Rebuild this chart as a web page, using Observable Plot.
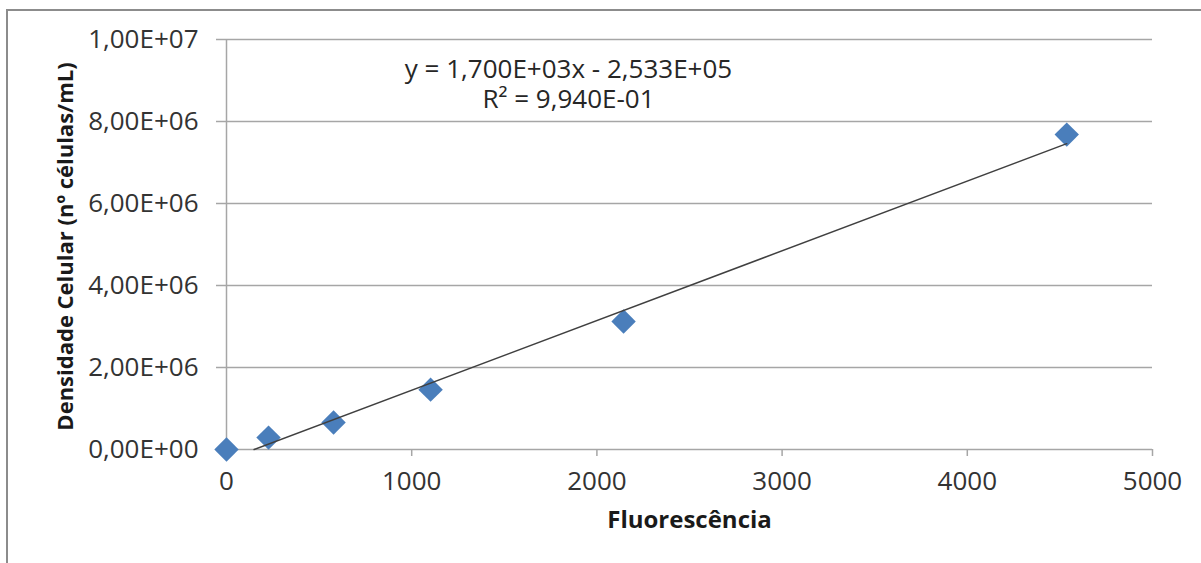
<!DOCTYPE html>
<html><head><meta charset="utf-8">
<script src="https://cdn.jsdelivr.net/npm/d3@7"></script>
<script src="https://cdn.jsdelivr.net/npm/@observablehq/plot@0.6"></script>
<style>
html,body{margin:0;padding:0;background:#fff;}
#wrap{position:relative;width:1201px;height:563px;overflow:hidden;background:#fff;}
#border{position:absolute;left:6px;top:9px;width:1300px;height:700px;border:2px solid #8c8c8c;box-sizing:border-box;}
#chart{position:absolute;left:0;top:0;}
</style></head><body>
<div id="wrap"><div id="border"></div><div id="chart"></div></div>
<script>
// data
const fluorescencia = [0, 227, 578, 1102, 2144, 4537];
const densidade = [0, 2.9e5, 6.6e5, 1.46e6, 3.12e6, 7.68e6];
const trendSlope = 1700;
const trendIntercept = -253300;
const xTicks = [0, 1000, 2000, 3000, 4000, 5000];
const yTicks = [0, 2e6, 4e6, 6e6, 8e6, 1e7];
const yTickLabels = ["0,00E+00", "2,00E+06", "4,00E+06", "6,00E+06", "8,00E+06", "1,00E+07"];
const equationLines = ["y = 1,700E+03x - 2,533E+05", "R² = 9,940E-01"];
const xLabel = "Fluorescência";
const yLabel = "Densidade Celular (nº células/mL)";

const points = fluorescencia.map((x, i) => ({x, y: densidade[i]}));
const xStart = -trendIntercept / trendSlope;
const xEnd = d3.max(fluorescencia);
const trend = [xStart, xEnd].map(x => ({x, y: trendSlope * x + trendIntercept}));

const gridColor = "#a6a6a6";
const textColor = "#262626";
const fs = 26;

const plot = Plot.plot({
  width: 1201,
  height: 563,
  marginLeft: 226,
  marginRight: 49,
  marginTop: 39,
  marginBottom: 114,
  style: {fontFamily: "'Open Sans', sans-serif", fontSize: fs + "px", color: textColor, background: "transparent", overflow: "visible"},
  x: {domain: [0, 5000]},
  y: {domain: [0, 1e7]},
  marks: [
    Plot.ruleY(yTicks, {stroke: gridColor, strokeWidth: 1.5}),
    Plot.ruleX([0], {stroke: gridColor, strokeWidth: 1.5}),
    Plot.axisY(yTicks, {tickSize: 10, tickPadding: 18, tickFormat: d => yTickLabels[yTicks.indexOf(d)], stroke: gridColor, strokeWidth: 1.5, fill: "#333", label: null, fontSize: fs}),
    Plot.axisX(xTicks, {tickSize: 7, tickPadding: 15.5, tickFormat: d => String(d), stroke: gridColor, strokeWidth: 1.5, fill: "#333", label: null, fontSize: fs}),
    Plot.dot(points, {x: "x", y: "y", symbol: "diamond2", r: 11, fill: "#4a7ebb", stroke: null}),
    Plot.line(trend, {x: "x", y: "y", stroke: "#404040", strokeWidth: 1.5}),
    Plot.text([equationLines.join("\n")], {frameAnchor: "top", dx: -121, dy: 17.5, lineAnchor: "top", lineHeight: 30 / fs, fontSize: fs, fill: textColor}),
    Plot.text([yLabel], {frameAnchor: "left", textAnchor: "middle", lineAnchor: "middle", dx: -161, dy: 2, rotate: -90, fontWeight: "bold", fontSize: 22, fill: "#1a1a1a"}),
    Plot.text([xLabel], {frameAnchor: "bottom", dy: 61, lineAnchor: "top", fontWeight: "bold", fontSize: 24, fill: "#1a1a1a"})
  ]
});
document.getElementById("chart").appendChild(plot);
</script>
</body></html>
